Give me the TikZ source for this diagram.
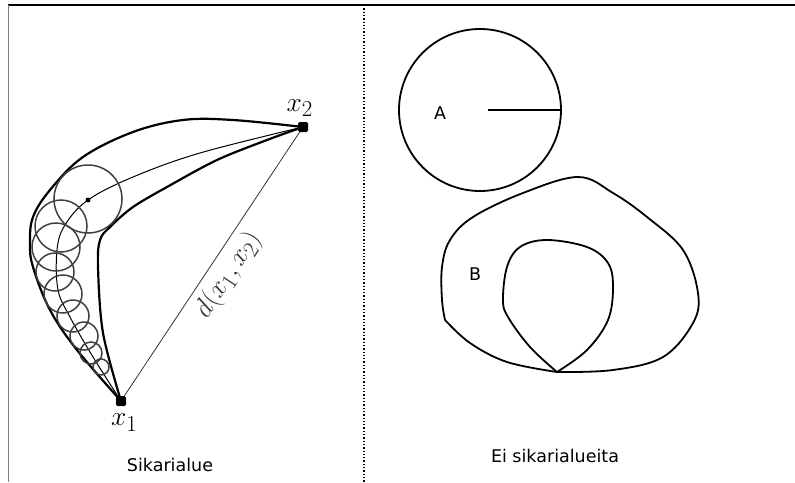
\documentclass[tikz,border=0pt]{standalone}
\usepackage{fontspec}
\newfontfamily\labelfont{DejaVu Sans}
\usetikzlibrary{positioning}

\begin{document}
\begin{tikzpicture}[
        x=1pt, y=-1pt,
        endpt/.style={fill, inner sep=0pt, minimum size=10pt, rounded corners=1.5pt},
        bound/.style={line width=2.2pt},
        spine/.style={line width=1pt},
        disc/.style={draw=black!75, line width=1.5pt},
        region/.style={line width=1.8pt},
        txt/.style={font=\labelfont\fontsize{17.5}{20}\selectfont},
        mtxt/.style={font=\Huge, scale=1.1}
      ]
      \useasboundingbox (0,0) rectangle (795,482);

      % Frame
      \draw[line width=1.8pt] (8,5) -- (795,5);
      \draw[black!50, line width=1pt] (8,5) -- (8,482);
      \draw[dotted, line width=1.3pt] (364,5) -- (364,482);

      % End points
      \node[endpt] (x1) at (121,401) {};
      \node[endpt] (x2) at (303,127) {};
      \node[mtxt, below=4pt of x1, xshift=3pt] (lx1) {$x_1$};
      \node[mtxt, above=1pt of x2, xshift=-3pt] (lx2) {$x_2$};

      % Cigar boundary
      \draw[bound] plot[smooth, tension=0.6] coordinates {(x1.center) (77,350) (50,310) (33,267) (30,243)
        (33,217) (50,190) (83,157) (133,132) (183,120) (233,120) (x2.center)};
      \draw[bound] plot[smooth, tension=0.55] coordinates {(x1.center) (103,333) (98,267) (100,240)
        (110,227) (133,207) (167,187) (217,160) (267,140) (x2.center)};

      % Curve through the centres
      \node[circle, fill, inner sep=0pt, minimum size=5pt] (c0) at (88,200) {};
      \draw[spine] plot[smooth, tension=0.6] coordinates {(x2.center) (200,153) (133,177) (c0.center)
        (65,225) (57,250) (58,290) (70,317) (87,347) (103,373) (x1.center)};

      % Balls
      \foreach \cx/\cy/\r in {88/199/34, 61/226/26, 56/247/24, 55/272/19, 63/294/19,
                              73/316/16, 84/336/14, 91/353/11, 101/367/8}
        \draw[disc] (\cx,\cy) circle[radius=\r];

      % Distance
      \draw[line width=0.8pt, black!80] (x1) -- node[mtxt, midway, sloped, below=2pt] (dist) {$d(x_1,x_2)$} (x2);

      \node[txt] (left) at (170,465) {Sikarialue};

      % Ball A
      \node[draw, circle, region, minimum size=162pt, inner sep=0pt] (A) at (480,110) {};
      \coordinate (a0) at (488,110);
      \draw[region] (a0) -- (A.east);
      \node[txt] (lA) at (440,113) {A};

      % Region B
      \coordinate (cusp) at (557,372);
      \coordinate (bc) at (445,320);
      \draw[region] plot[smooth, tension=0.6] coordinates {(cusp) (613,370) (663,357) (693,323) (698,293)
        (683,250) (647,217) (613,193) (578,177) (523,193) (473,217) (450,240) (442,267) (442,300) (bc)};
      \draw[region] plot[smooth, tension=0.6] coordinates {(bc) (470,343) (507,362) (cusp)};
      \draw[region] plot[smooth, tension=0.6] coordinates {(cusp) (587,350) (608,320) (613,287) (608,263)
        (587,247) (547,240) (520,247) (507,267) (503,300) (508,317) (530,347) (cusp)};
      \node[txt] (lB) at (475,274) {B};

      \node[txt] (right) at (555,456) {Ei sikarialueita};

\end{tikzpicture}
\end{document}
